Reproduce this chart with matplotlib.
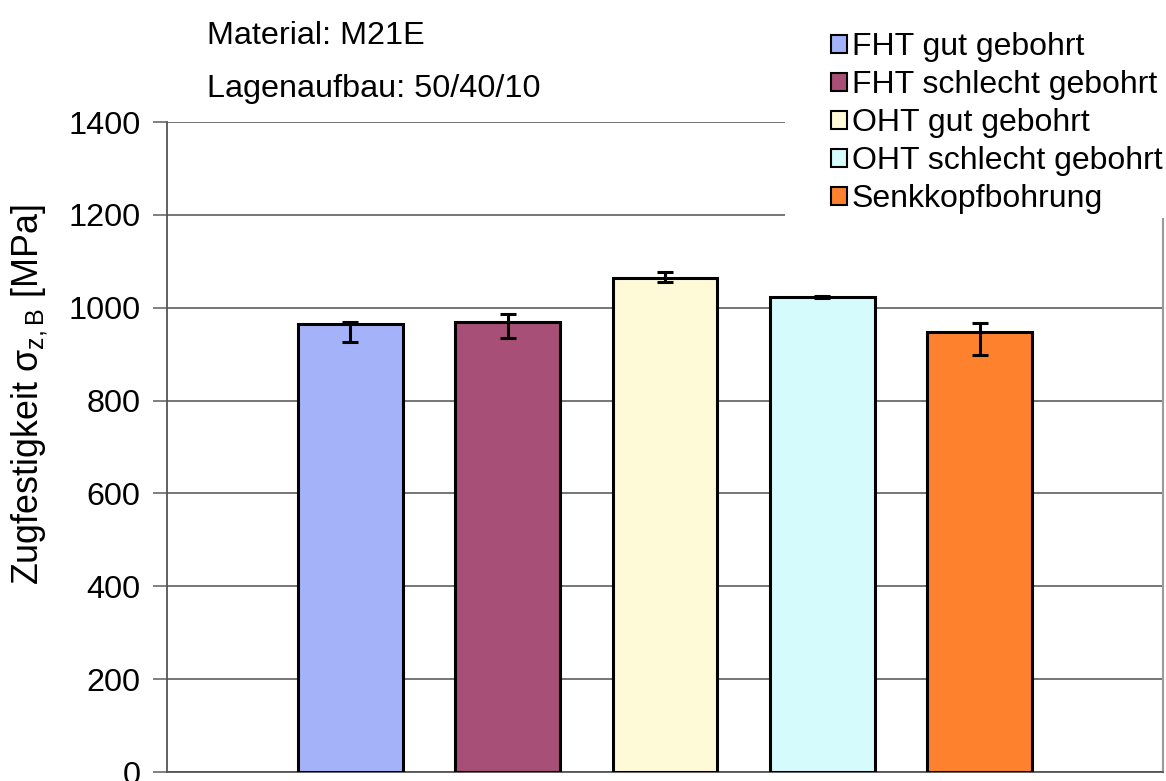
import matplotlib
matplotlib.use("Agg")
import matplotlib.pyplot as plt
from matplotlib.patches import Rectangle
import numpy as np

# ---- data -----------------------------------------------------------------
labels = ["FHT gut gebohrt", "FHT schlecht gebohrt", "OHT gut gebohrt",
          "OHT schlecht gebohrt", "Senkkopfbohrung"]
values = [966, 970, 1065, 1024, 948]
err_low = [40, 35, 9, 2, 49]
err_high = [4, 16, 11, 2, 20]
colors = ["#a4b2fa", "#a84f77", "#fefad8", "#d6fbfd", "#fe822e"]
yticks = [0, 200, 400, 600, 800, 1000, 1200, 1400]

plt.rcParams["font.family"] = ["Liberation Sans", "DejaVu Sans"]
plt.rcParams["mathtext.fontset"] = "custom"
plt.rcParams["mathtext.rm"] = "Liberation Sans"
plt.rcParams["mathtext.it"] = "Liberation Sans:italic"

W, H = 1166, 781
FS = 23.3
fig = plt.figure(figsize=(W / 100, H / 100), dpi=100)
ax = fig.add_axes([167 / W, 1 - 772 / H, (1163 - 167) / W, (772 - 122) / H])

x = np.arange(len(values))
bars = ax.bar(x, values, width=0.667, color=colors, edgecolor="black",
              linewidth=2.2, zorder=3)
ax.errorbar(x, values, yerr=[err_low, err_high], fmt="none", ecolor="black",
            elinewidth=2.2, capsize=6, capthick=2.2, zorder=4)

ax.set_xlim(-1.165, 5.165)
ax.set_ylim(0, 1400)
ax.set_yticks(yticks)
ax.set_xticks([])
ax.yaxis.grid(True, color="#6a6a6a", linewidth=1.3, zorder=0)
ax.tick_params(axis="y", labelsize=FS, length=10, width=1.2, color="#6a6a6a",
               pad=9)
for side in ["left", "bottom"]:
    ax.spines[side].set_color("#555555")
    ax.spines[side].set_linewidth(1.3)
ax.spines["top"].set_visible(False)
ax.spines["right"].set_color("#9a9a9a")
ax.spines["right"].set_linewidth(1.5)

fig.text(30 / W, 1 - 395 / H, "Zugfestigkeit σ$_{\\mathrm{z,B}}$ [MPa]",
         rotation=90, ha="center", va="center", fontsize=25.8)
fig.text(207 / W, 1 - 36 / H, "Material: M21E", ha="left", va="center",
         fontsize=FS)
fig.text(207 / W, 1 - 89 / H, "Lagenaufbau: 50/40/10", ha="left", va="center",
         fontsize=FS)

# white legend area covering the top-right corner of the plot frame
fig.patches.append(Rectangle((785 / W, 1 - 218 / H), (W - 785) / W, 200 / H,
                             transform=fig.transFigure, facecolor="white",
                             edgecolor="none", zorder=5))

leg = fig.legend(list(bars), labels, loc="upper left",
                 bbox_to_anchor=(831 / W, 1 - 32 / H), frameon=False,
                 fontsize=23, handlelength=0.5, handleheight=0.5,
                 handletextpad=0.15, labelspacing=0.25, borderpad=0.0,
                 borderaxespad=0)
leg.set_zorder(6)
for h in leg.legend_handles:
    h.set_linewidth(1.5)

fig.savefig("out.png", dpi=100)
